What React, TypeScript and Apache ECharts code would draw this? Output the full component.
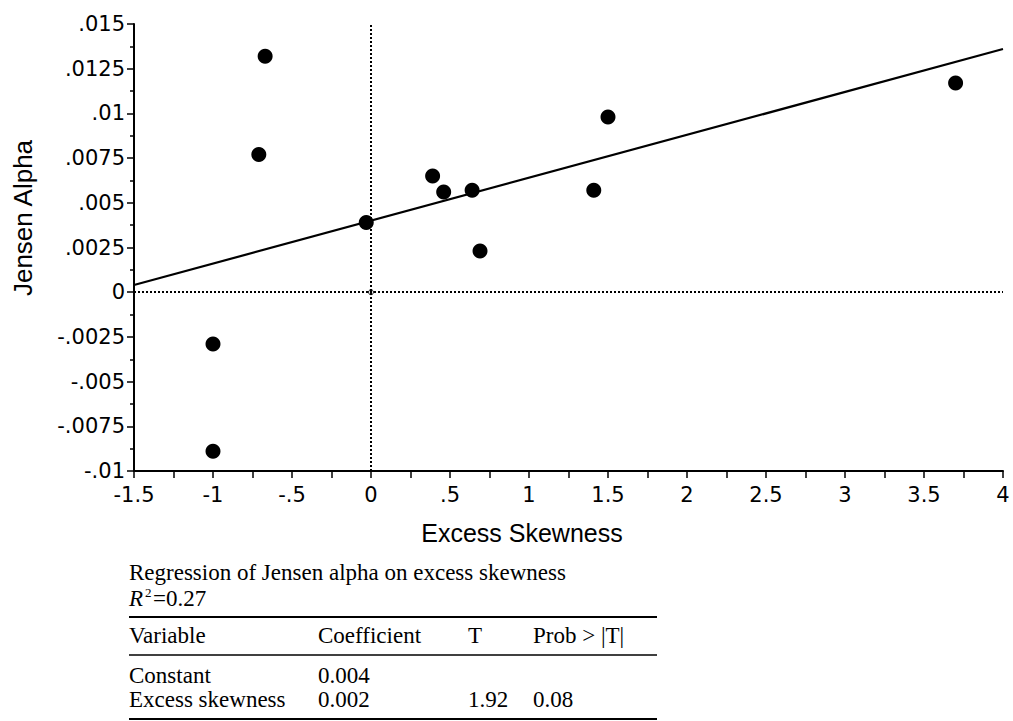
import React, { useEffect, useRef } from "react";
import * as echarts from "echarts";

const skewness = [-0.67, -0.71, -0.03, -1.0, -1.0, 0.39, 0.46, 0.64, 0.69, 1.41, 1.5, 3.7];
const alpha = [0.0132, 0.0077, 0.0039, -0.0029, -0.0089, 0.0065, 0.0056, 0.0057, 0.0023, 0.0057, 0.0098, 0.0117];

// Fitted regression line endpoints
const fitX = [-1.5, 4];
const fitY = [0.0004, 0.0136];

// Axis ranges / ticks
const xMin = -1.5, xMax = 4, xStep = 0.5;
const yMin = -0.01, yMax = 0.015, yStep = 0.0025;

// Regression table
const tableTitle = "Regression of Jensen alpha on excess skewness";
const rSquared = "0.27";
const tableHeader = ["Variable", "Coefficient", "T", "Prob > |T|"];
const tableRows = [
  ["Constant", "0.004", "", ""],
  ["Excess skewness", "0.002", "1.92", "0.08"],
];

function fmt(v: number, digits: number): string {
  if (Math.abs(v) < 1e-12) return "0";
  let s = String(+v.toFixed(digits));
  s = s.replace(/^(-?)0\./, "$1.");
  return s;
}

export default function App() {
  const ref = useRef<HTMLDivElement>(null);
  useEffect(() => {
    if (!ref.current) return;
    const chart = echarts.init(ref.current, null, { renderer: "svg" });
    const serif = "Liberation Serif";
    const fs = 23;
    const colX = [129, 318, 468, 533];
    const rowY = { title: 572, r2: 598, header: 635, r1: 675, r2b: 699 };
    const tableRight = 657;

    const graphic: any[] = [
      {
        type: "text",
        x: 522,
        y: 533,
        style: { text: "Excess Skewness", fontFamily: "Liberation Sans", fontSize: 25, fill: "#000", textAlign: "center", textVerticalAlign: "middle" },
      },
      {
        type: "text",
        x: 23,
        y: 218,
        rotation: Math.PI / 2,
        style: { text: "Jensen Alpha", fontFamily: "Liberation Sans", fontSize: 26, fill: "#000", textAlign: "center", textVerticalAlign: "middle" },
      },
      {
        type: "text",
        x: colX[0],
        y: rowY.title,
        style: { text: tableTitle, fontFamily: serif, fontSize: fs, fill: "#000", textAlign: "left", textVerticalAlign: "middle" },
      },
      {
        type: "text",
        x: colX[0],
        y: rowY.r2,
        style: { text: "R", fontFamily: serif, fontStyle: "italic", fontSize: fs, fill: "#000", textAlign: "left", textVerticalAlign: "middle" },
      },
      {
        type: "text",
        x: 145,
        y: rowY.r2 - 6,
        style: { text: "2", fontFamily: serif, fontSize: 13, fill: "#000", textAlign: "left", textVerticalAlign: "middle" },
      },
      {
        type: "text",
        x: 153,
        y: rowY.r2,
        style: { text: "=" + rSquared, fontFamily: serif, fontSize: fs, fill: "#000", textAlign: "left", textVerticalAlign: "middle" },
      },
      { type: "line", shape: { x1: colX[0], y1: 617, x2: tableRight, y2: 617 }, style: { stroke: "#000", lineWidth: 2 } },
      { type: "line", shape: { x1: colX[0], y1: 655, x2: tableRight, y2: 655 }, style: { stroke: "#000", lineWidth: 1.5 } },
      { type: "line", shape: { x1: colX[0], y1: 719, x2: tableRight, y2: 719 }, style: { stroke: "#000", lineWidth: 2 } },
    ];
    tableHeader.forEach((h, i) => {
      graphic.push({
        type: "text",
        x: colX[i],
        y: rowY.header,
        style: { text: h, fontFamily: serif, fontSize: fs, fill: "#000", textAlign: "left", textVerticalAlign: "middle" },
      });
    });
    const ys = [rowY.r1, rowY.r2b];
    tableRows.forEach((row, r) => {
      row.forEach((c, i) => {
        if (!c) return;
        graphic.push({
          type: "text",
          x: colX[i],
          y: ys[r],
          style: { text: c, fontFamily: serif, fontSize: fs, fill: "#000", textAlign: "left", textVerticalAlign: "middle" },
        });
      });
    });

    const tickStyle = { color: "#000", width: 1.5 };
    const option: any = {
      animation: false,
      backgroundColor: "#fff",
      grid: { left: 134, right: 10, top: 24, bottom: 250, containLabel: false, outerBoundsMode: "none" },
      xAxis: {
        type: "value",
        min: xMin,
        max: xMax,
        interval: xStep,
        axisLine: { show: true, onZero: false, lineStyle: { color: "#000", width: 2 } },
        axisTick: { show: true, length: 7, lineStyle: tickStyle },
        minorTick: { show: true, splitNumber: 2, length: 7, lineStyle: tickStyle },
        splitLine: { show: false },
        minorSplitLine: { show: false },
        axisLabel: {
          color: "#000",
          fontFamily: "DejaVu Sans",
          fontSize: 21,
          margin: 13,
          formatter: (v: number) => fmt(v, 2),
        },
      },
      yAxis: {
        type: "value",
        min: yMin,
        max: yMax,
        interval: yStep,
        axisLine: { show: true, onZero: false, lineStyle: { color: "#000", width: 2 } },
        axisTick: { show: true, length: 7, lineStyle: tickStyle },
        minorTick: { show: true, splitNumber: 2, length: 4, lineStyle: tickStyle },
        splitLine: { show: false },
        minorSplitLine: { show: false },
        axisLabel: {
          color: "#000",
          fontFamily: "DejaVu Sans",
          fontSize: 21,
          margin: 9,
          formatter: (v: number) => fmt(v, 5),
        },
      },
      series: [
        {
          type: "line",
          data: fitX.map((x, i) => [x, fitY[i]]),
          symbol: "none",
          lineStyle: { color: "#000", width: 2.2 },
          z: 2,
          silent: true,
        },
        {
          type: "scatter",
          data: skewness.map((x, i) => [x, alpha[i]]),
          symbol: "circle",
          symbolSize: 15,
          itemStyle: { color: "#000", opacity: 1 },
          z: 3,
          markLine: {
            silent: true,
            symbol: ["none", "none"],
            label: { show: false },
            lineStyle: { type: "dotted", color: "#000", width: 2 },
            data: [{ xAxis: 0 }, { yAxis: 0 }],
          },
        },
        {
          type: "scatter",
          data: [[0, 0]],
          symbol: "circle",
          symbolSize: 5,
          itemStyle: { color: "#fff", borderColor: "#000", borderWidth: 1, opacity: 1 },
          z: 4,
          silent: true,
        },
      ],
      graphic,
    };
    chart.setOption(option);
    return () => chart.dispose();
  }, []);
  return (
    <div
      ref={ref}
      style={{ position: "absolute", left: 0, top: 0, width: 1013, height: 721, background: "#fff" }}
    />
  );
}
